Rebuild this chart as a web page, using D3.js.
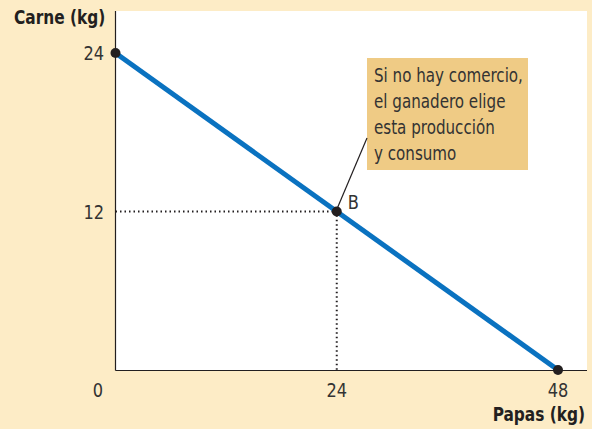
<!DOCTYPE html>
<html><head><meta charset="utf-8">
<script src="https://cdn.jsdelivr.net/npm/d3@7"></script>
<style>
html,body{margin:0;padding:0;background:#fdecc6;}
svg{display:block;}
</style></head>
<body>
<svg id="c" width="592" height="429"></svg>
<script>
const xTicks = [0, 24, 48];
const yTicks = [12, 24];
const ppfPapas = [0, 48];
const ppfCarne = [24, 0];
const pointsPapas = [0, 24, 48];
const pointsCarne = [24, 12, 0];
const pointLabels = ["", "B", ""];
const xTitle = "Papas (kg)";
const yTitle = "Carne (kg)";
const noteLines = ["Si no hay comercio,", "el ganadero elige", "esta producción", "y consumo"];

const svg = d3.select("#c");
const W = 592, H = 429;
const x = d3.scaleLinear().domain([0, 48]).range([115.5, 558]);
const y = d3.scaleLinear().domain([0, 24]).range([370, 53]);
const font = "'DejaVu Sans Condensed','Liberation Sans Narrow',sans-serif";

function txt(px, py, str, o = {}) {
  const g = svg.append("g").attr("transform", `translate(${px},${py}) scale(${o.sx || 0.9},1)`);
  return g.append("text").attr("x", 0).attr("y", 0)
    .attr("text-anchor", o.anchor || "start")
    .attr("dy", o.dy || null)
    .attr("font-family", font).attr("font-size", o.size || 19)
    .attr("font-weight", o.bold ? "bold" : "normal")
    .attr("fill", o.fill || "#333").text(str);
}

svg.append("rect").attr("x", 0).attr("y", 0).attr("width", W).attr("height", H).attr("fill", "#fdecc6");
svg.append("rect").attr("x", 115.5).attr("y", 11).attr("width", 587 - 115.5).attr("height", 370 - 11).attr("fill", "#ffffff");

// axes
svg.append("line").attr("x1", 115.5).attr("x2", 115.5).attr("y1", 11).attr("y2", 370.5).attr("stroke", "#231f20").attr("stroke-width", 1.2);
svg.append("line").attr("x1", 115.5).attr("x2", 587).attr("y1", 370.5).attr("y2", 370.5).attr("stroke", "#231f20").attr("stroke-width", 1.2);

// tick labels
xTicks.forEach(d => txt(d === 0 ? 98 : x(d), 397, d, {anchor: "middle", size: 20}));
yTicks.forEach(d => txt(104, y(d), d, {anchor: "end", dy: "0.36em", size: 20}));

// titles
txt(14, 24, yTitle, {bold: true, fill: "#231f20"});
txt(585, 421, xTitle, {bold: true, fill: "#231f20", anchor: "end"});

// dotted guides to B
const bx = x(pointsPapas[1]), by = y(pointsCarne[1]);
svg.append("path").attr("d", `M${x(0)},${by}H${bx}V${y(0)}`)
  .attr("fill", "none").attr("stroke", "#231f20").attr("stroke-width", 2).attr("stroke-dasharray", "1.5,3");

// PPF line
svg.append("line").attr("x1", x(ppfPapas[0])).attr("y1", y(ppfCarne[0])).attr("x2", x(ppfPapas[1])).attr("y2", y(ppfCarne[1]))
  .attr("stroke", "#0a72c0").attr("stroke-width", 5);

// note box
svg.append("rect").attr("x", 367).attr("y", 58).attr("width", 161).attr("height", 112).attr("fill", "#efcb85");
noteLines.forEach((d, i) => txt(374, 82 + i * 26, d, {size: 19, sx: 0.885}));
svg.append("line").attr("x1", 367).attr("y1", 138).attr("x2", bx).attr("y2", by - 2)
  .attr("stroke", "#231f20").attr("stroke-width", 1.2);

// points
svg.selectAll(".pt").data(pointsPapas).join("circle")
  .attr("cx", d => x(d)).attr("cy", (d, i) => y(pointsCarne[i])).attr("r", 5).attr("fill", "#231f20");
pointsPapas.forEach((d, i) => { if (pointLabels[i]) txt(x(d) + 11, y(pointsCarne[i]) - 3, pointLabels[i], {size: 20}); });
</script>
</body></html>
